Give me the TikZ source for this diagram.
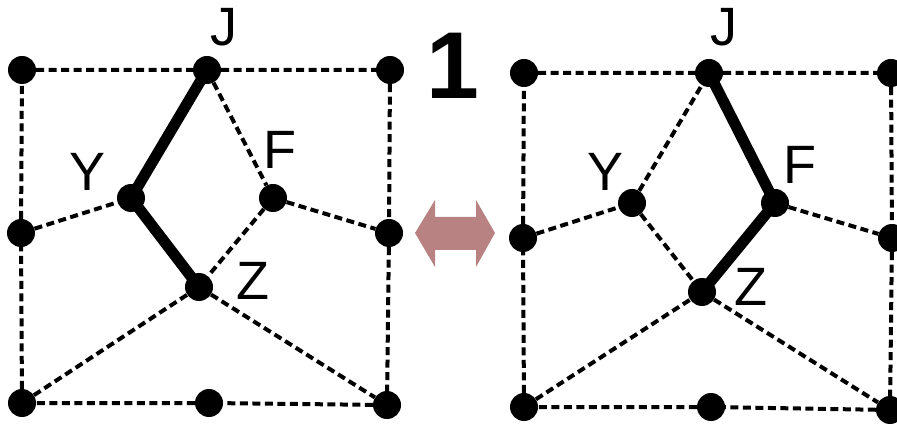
\documentclass[tikz,border=0pt]{standalone}
\usepackage{fontspec}
\setmainfont{Liberation Sans}
\usepackage{tikz}
\definecolor{swapcol}{RGB}{185,130,130}
\tikzset{
  vtx/.style={circle, fill=black, inner sep=0pt, minimum size=28pt},
  lbl/.style={inner sep=0pt, font=\fontsize{54}{54}\selectfont},
  edge/.style={line width=4pt, dash pattern=on 8pt off 4.5pt},
  path/.style={line width=11pt, line cap=round}
}

\begin{document}
\begin{tikzpicture}[x=1pt, y=-1pt]
			%%%%% START %%%%%
			\useasboundingbox (0, 0) rectangle (897, 430);
			
			% left graph
			\node[vtx] (aTL) at (22, 70) {};
			\node[vtx] (aJ) at (207, 70) {};
			\node[vtx] (aTR) at (390, 70) {};
			\node[vtx] (aL) at (21, 233) {};
			\node[vtx] (aY) at (131, 198) {};
			\node[vtx] (aF) at (273, 198) {};
			\node[vtx] (aR) at (389, 233) {};
			\node[vtx] (aZ) at (199, 287) {};
			\node[vtx] (aBL) at (22, 403) {};
			\node[vtx] (aBM) at (209, 403) {};
			\node[vtx] (aBR) at (387, 405) {};
			
			\draw[edge] (aTL) -- (aJ) -- (aTR) -- (aR) -- (aBR) -- (aBM) -- (aBL) -- (aL) -- (aTL);
			\draw[edge] (aL) -- (aY);
			\draw[edge] (aJ) -- (aF) -- (aR);
			\draw[edge] (aF) -- (aZ);
			\draw[edge] (aBL) -- (aZ) -- (aBR);
			\draw[path] (aJ.center) -- (aY.center) -- (aZ.center);
			
			\node[lbl] (laJ) at (224, 27) {J};
			\node[lbl] (laY) at (88, 172) {Y};
			\node[lbl] (laF) at (280, 150) {F};
			\node[lbl] (laZ) at (253, 281) {Z};
			
			% step number and swap arrow
			\node[inner sep=0pt, font=\fontsize{95}{95}\selectfont\bfseries] (num) at (453, 66) {1};
			\fill[swapcol] (415, 233) -- (435, 200) -- (435, 217) -- (476, 217) -- (476, 200) -- (495, 233)
			  -- (476, 267) -- (476, 250) -- (435, 250) -- (435, 267) -- cycle;
			
			% right graph
			\node[vtx] (bTL) at (524, 73) {};
			\node[vtx] (bJ) at (709, 73) {};
			\node[vtx] (bTR) at (891, 73) {};
			\node[vtx] (bL) at (523, 238) {};
			\node[vtx] (bY) at (632, 203) {};
			\node[vtx] (bF) at (775, 203) {};
			\node[vtx] (bR) at (892, 238) {};
			\node[vtx] (bZ) at (702, 292) {};
			\node[vtx] (bBL) at (524, 407) {};
			\node[vtx] (bBM) at (711, 407) {};
			\node[vtx] (bBR) at (890, 410) {};
			
			\draw[edge] (bTL) -- (bJ) -- (bTR) -- (bR) -- (bBR) -- (bBM) -- (bBL) -- (bL) -- (bTL);
			\draw[edge] (bL) -- (bY) -- (bJ);
			\draw[edge] (bY) -- (bZ);
			\draw[edge] (bF) -- (bR);
			\draw[edge] (bBL) -- (bZ) -- (bBR);
			\draw[path] (bJ.center) -- (bF.center) -- (bZ.center);
			
			\node[lbl] (lbJ) at (724, 27) {J};
			\node[lbl] (lbY) at (606, 172) {Y};
			\node[lbl] (lbF) at (800, 165) {F};
			\node[lbl] (lbZ) at (751, 287) {Z};
			
			%%%%% END %%%%%
\end{tikzpicture}
\end{document}
